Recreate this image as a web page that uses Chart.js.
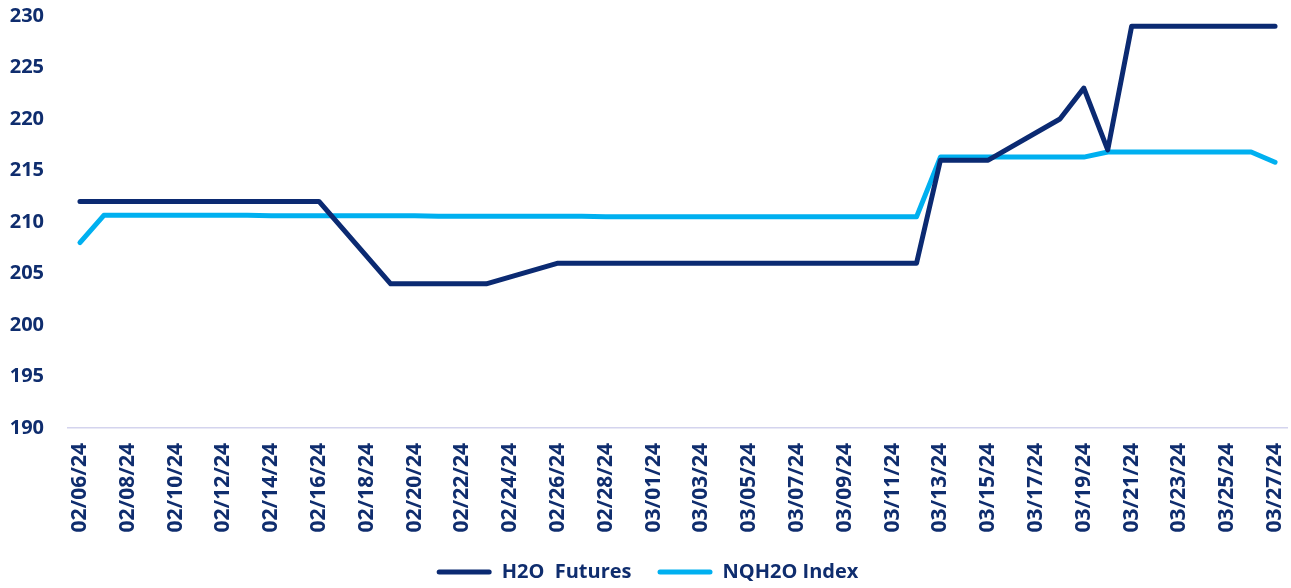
<!DOCTYPE html>
<html>
<head>
<meta charset="utf-8">
<title>H2O Futures vs NQH2O Index</title>
<script src="https://cdn.jsdelivr.net/npm/chart.js@4/dist/chart.umd.min.js"></script>
<style>
    html, body { margin: 0; padding: 0; background: #ffffff; }
    #wrap { width: 1291px; height: 588px; position: relative; }
</style>
</head>
<body>
<div id="wrap"><canvas id="waterChart"></canvas></div>
<script>
// Daily dates, 02/06/24 .. 03/27/24
const dates = [
    '02/06/24', '02/07/24', '02/08/24', '02/09/24', '02/10/24', '02/11/24', '02/12/24',
    '02/13/24', '02/14/24', '02/15/24', '02/16/24', '02/17/24', '02/18/24', '02/19/24',
    '02/20/24', '02/21/24', '02/22/24', '02/23/24', '02/24/24', '02/25/24', '02/26/24',
    '02/27/24', '02/28/24', '02/29/24', '03/01/24', '03/02/24', '03/03/24', '03/04/24',
    '03/05/24', '03/06/24', '03/07/24', '03/08/24', '03/09/24', '03/10/24', '03/11/24',
    '03/12/24', '03/13/24', '03/14/24', '03/15/24', '03/16/24', '03/17/24', '03/18/24',
    '03/19/24', '03/20/24', '03/21/24', '03/22/24', '03/23/24', '03/24/24', '03/25/24',
    '03/26/24', '03/27/24'
];

// Futures only trade on weekdays; weekends are left empty and the line spans them
const h2oFutures = [
    212, 212, 212, 212, null, null, 212,
    212, 212, 212, 212, null, null, 204,
    204, 204, 204, 204, null, null, 206,
    206, 206, 206, 206, null, null, 206,
    206, 206, 206, 206, null, null, 206,
    206, 216, 216, 216, null, null, 220,
    223, 217, 229, 229, null, null, 229,
    229, 229
];

const nqh2oIndex = [
    208, 210.65, 210.65, 210.65, 210.65, 210.65, 210.65,
    210.65, 210.6, 210.6, 210.6, 210.6, 210.6, 210.6,
    210.6, 210.55, 210.55, 210.55, 210.55, 210.55, 210.55,
    210.55, 210.5, 210.5, 210.5, 210.5, 210.5, 210.5,
    210.5, 210.5, 210.5, 210.5, 210.5, 210.5, 210.5,
    210.5, 216.3, 216.3, 216.3, 216.3, 216.3, 216.3,
    216.3, 216.8, 216.8, 216.8, 216.8, 216.8, 216.8,
    216.8, 215.8
];

const yMin = 190;
const yMax = 230;
const yStep = 5;

const NAVY = '#0b2a72';
const SKY = '#00b0f0';
const TEXT = '#0f2d6e';
const FONT = { family: '"Open Sans", sans-serif', size: 20, weight: 'bold' };
const X_FONT = { family: '"Open Sans", sans-serif', size: 21, weight: 'bold' };

// keep the legend strip compact so it sits right at the bottom edge
const legendHeight = {
    id: 'legendHeight',
    beforeInit(chart) {
        const fit = chart.legend.fit;
        chart.legend.fit = function () {
            fit.call(this);
            this.height = 52;
        };
    }
};

const ctx = document.getElementById('waterChart').getContext('2d');
new Chart(ctx, {
    type: 'line',
    data: {
        labels: dates,
        datasets: [
            {
                label: 'H2O  Futures',
                data: h2oFutures,
                borderColor: NAVY,
                backgroundColor: NAVY,
                borderWidth: 5,
                pointRadius: 0,
                spanGaps: true,
                borderCapStyle: 'round',
                borderJoinStyle: 'round',
                tension: 0
            },
            {
                label: 'NQH2O Index',
                data: nqh2oIndex,
                borderColor: SKY,
                backgroundColor: SKY,
                borderWidth: 5,
                pointRadius: 0,
                spanGaps: true,
                borderCapStyle: 'round',
                borderJoinStyle: 'round',
                tension: 0
            }
        ]
    },
    plugins: [legendHeight],
    options: {
        responsive: true,
        maintainAspectRatio: false,
        animation: false,
        layout: { padding: { left: 8, right: 4, top: 0, bottom: 0 } },
        plugins: {
            tooltip: { enabled: false },
            legend: {
                position: 'bottom',
                labels: {
                    color: TEXT,
                    font: FONT,
                    boxWidth: 55,
                    boxHeight: 5,
                    padding: 26,
                    useBorderRadius: true,
                    borderRadius: 2.5,
                    generateLabels(chart) {
                        return chart.data.datasets.map((ds, i) => ({
                            text: ds.label,
                            fillStyle: ds.borderColor,
                            strokeStyle: ds.borderColor,
                            lineWidth: 0,
                            borderRadius: 2.5,
                            fontColor: TEXT,
                            datasetIndex: i,
                            hidden: false
                        }));
                    }
                }
            }
        },
        scales: {
            x: {
                offset: true,
                grid: { display: false, drawTicks: false },
                border: { display: true, color: '#d4d4ee', width: 1.5 },
                ticks: {
                    autoSkip: false,
                    maxRotation: 90,
                    minRotation: 90,
                    padding: 15,
                    color: TEXT,
                    font: X_FONT,
                    callback(value, index) {
                        return index % 2 === 0 ? dates[index] : '';
                    }
                },
                afterFit(scale) {
                    scale.height = 108;
                    scale.paddingLeft = 0;
                    scale.paddingRight = 0;
                }
            },
            y: {
                min: yMin,
                max: yMax,
                grid: { display: false, drawTicks: false },
                border: { display: false },
                ticks: {
                    stepSize: yStep,
                    padding: 24,
                    color: TEXT,
                    font: FONT
                },
                afterFit(scale) {
                    scale.width = 60;
                    scale.paddingTop = 16;
                }
            }
        }
    }
});
</script>
</body>
</html>
